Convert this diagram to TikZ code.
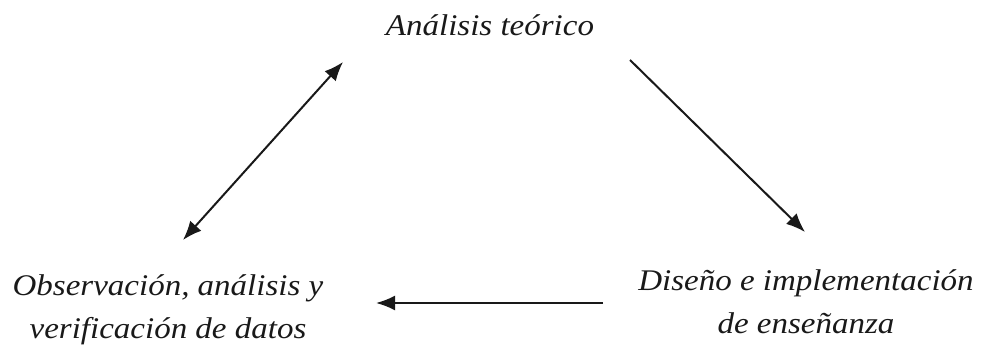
\documentclass[tikz,border=0pt]{standalone}
\usepackage{fontspec}
\setmainfont{Liberation Serif}[FakeStretch=1.1]
\usetikzlibrary{arrows.meta}
\tikzset{
  lbl/.style={font=\fontsize{30}{43}\selectfont\itshape, text=black!90, inner sep=0pt, align=center},
  tip/.tip={Latex[length=19pt,width=15pt]},
  arr/.style={line width=2pt, draw=black!90, -tip},
  darr/.style={line width=2pt, draw=black!90, tip-tip}
}
\begin{document}
\begin{tikzpicture}[x=1pt,y=1pt]
\useasboundingbox (0,0) rectangle (987,350);
\node[lbl, anchor=base] (top) at (490,314) {Análisis teórico};
\node[lbl, anchor=center] (left) at (168,40) {Observación, análisis y\\verificación de datos};
\node[lbl, anchor=center] (right) at (806,48) {Diseño e implementación\\de enseñanza};
\coordinate (d1) at (183,110);
\coordinate (d2) at (343,288);
\coordinate (r1) at (630,290);
\coordinate (r2) at (805,118);
\coordinate (h1) at (603,47);
\coordinate (h2) at (376,47);
\draw[darr] (d1) -- (d2);
\draw[arr] (r1) -- (r2);
\draw[arr] (h1) -- (h2);
\end{tikzpicture}
\end{document}
